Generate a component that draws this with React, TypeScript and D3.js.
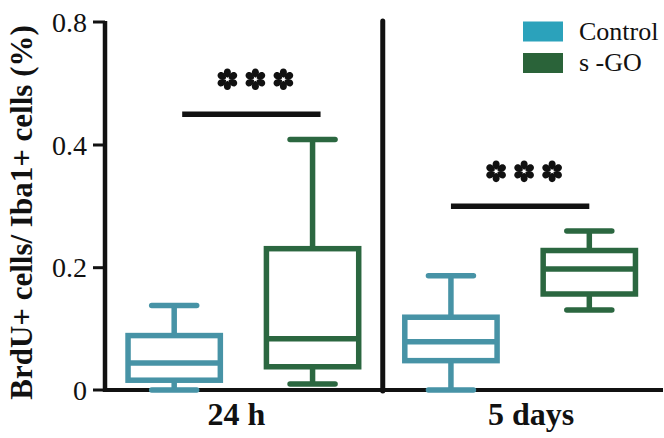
import React from "react";
import * as d3 from "d3";

// groups on the x axis and the two series
const groups = ["24 h", "5 days"];
const series = ["Control", "s-GO"];

// box stats per group: [min, q1, median, q3, max]
const controlStats = [
  [0, 0.016, 0.044, 0.089, 0.138],
  [0, 0.048, 0.079, 0.119, 0.187],
];
const sgoStats = [
  [0.01, 0.038, 0.084, 0.231, 0.418],
  [0.131, 0.157, 0.198, 0.228, 0.26],
];

// significance bars (height in data units) and labels
const sigLevels = [0.5, 0.3];
const sigLabels = ["***", "***"];

// y ticks (axis is broken: 0.4 -> 0.8 takes the same space as 0.2 steps)
const yTicks = [0, 0.2, 0.4, 0.8];
const yTickLabels = ["0", "0.2", "0.4", "0.8"];

const W = 664;
const H = 438;
const serif = "'Liberation Serif', 'Times New Roman', serif";

const strokeColors: Record<string, string> = { Control: "#4793a6", "s-GO": "#2b6740" };
const legendColors: Record<string, string> = { Control: "#2ba2bb", "s-GO": "#2a6339" };

// six-petal asterisk like the one in the figure
const petal = "M0,-1.5 C-5,-4 -4.4,-10.8 0,-10.8 C4.4,-10.8 5,-4 0,-1.5Z";

function Star({ cx, cy }: { cx: number; cy: number }) {
  return (
    <g transform={`translate(${cx},${cy})`}>
      {d3.range(6).map((i) => (
        <path key={i} d={petal} fill="#111" transform={`rotate(${i * 60})`} />
      ))}
    </g>
  );
}

export default function App() {
  const x = d3.scaleBand().domain(groups).range([105, 658.5]);
  const xs = d3.scaleBand().domain(series).range([0, x.bandwidth()]);
  const y = d3.scaleLinear().domain(yTicks).range([390, 267.7, 145, 22]);

  const boxW = xs.bandwidth() * 0.667;
  const capHalf = 22.5;
  const statsBySeries: Record<string, number[][]> = { Control: controlStats, "s-GO": sgoStats };
  const sigShift = [8, 0];
  const labelShift = [-7, 11];

  const cx = (g: string, s: string) => (x(g) as number) + (xs(s) as number) + xs.bandwidth() / 2;

  return (
    <svg width={W} height={H} style={{ position: "absolute", left: 0, top: 0, background: "#fff" }}>
      {/* y axis */}
      <line x1={105} x2={105} y1={y(0.8) - 1} y2={392} stroke="#111" strokeWidth={4.5} />
      {yTicks.map((t, i) => (
        <g key={t}>
          <line x1={93} x2={105} y1={y(t)} y2={y(t)} stroke="#111" strokeWidth={3} />
          <text x={87} y={y(t) + 9.5} textAnchor="end" fontFamily={serif} fontSize={28} fill="#111">
            {yTickLabels[i]}
          </text>
        </g>
      ))}
      {/* x axis */}
      <line x1={103} x2={663} y1={390} y2={390} stroke="#111" strokeWidth={4} />
      {/* divider between the groups */}
      <line
        x1={(x(groups[1]) as number) + 1}
        x2={(x(groups[1]) as number) + 1}
        y1={21}
        y2={391}
        stroke="#111"
        strokeWidth={5}
        strokeLinecap="round"
      />
      {groups.map((g, gi) => (
        <text
          key={g}
          x={(x(g) as number) + x.bandwidth() / 2 + labelShift[gi]}
          y={425}
          textAnchor="middle"
          fontFamily={serif}
          fontWeight="bold"
          fontSize={32}
          fill="#111"
        >
          {g}
        </text>
      ))}
      {/* y label */}
      <text
        transform="translate(32,212.5) rotate(-90)"
        textAnchor="middle"
        fontFamily={serif}
        fontWeight="bold"
        fontSize={31}
        fill="#111"
      >
        BrdU+ cells/ Iba1+ cells (%)
      </text>

      {/* boxes */}
      {groups.map((g, gi) =>
        series.map((s) => {
          const [mn, q1, md, q3, mx] = statsBySeries[s][gi];
          const c = cx(g, s);
          const col = strokeColors[s];
          return (
            <g key={g + s} stroke={col} strokeWidth={5.5} fill="none">
              <line x1={c} x2={c} y1={y(mx)} y2={y(q3)} />
              <line x1={c} x2={c} y1={y(q1)} y2={y(mn)} />
              <line x1={c - capHalf} x2={c + capHalf} y1={y(mx)} y2={y(mx)} strokeLinecap="round" />
              <line x1={c - capHalf} x2={c + capHalf} y1={y(mn)} y2={y(mn)} strokeLinecap="round" />
              <rect x={c - boxW / 2} y={y(q3)} width={boxW} height={y(q1) - y(q3)} fill="#fff" />
              <line x1={c - boxW / 2} x2={c + boxW / 2} y1={y(md)} y2={y(md)} />
            </g>
          );
        })
      )}

      {/* significance */}
      {groups.map((g, gi) => {
        const x1 = cx(g, series[0]) + sigShift[gi];
        const x2 = cx(g, series[1]) + sigShift[gi];
        const yy = y(sigLevels[gi]);
        const mid = (x1 + x2) / 2 + 4;
        return (
          <g key={"sig" + g}>
            <line x1={x1} x2={x2} y1={yy} y2={yy} stroke="#111" strokeWidth={5.5} />
            {sigLabels[gi].split("").map((_, k) => (
              <Star key={k} cx={mid + (k - 1) * 28} cy={yy - 35} />
            ))}
          </g>
        );
      })}

      {/* legend */}
      {series.map((s, i) => (
        <g key={"lg" + s} transform={`translate(523,${21.5 + i * 31.5})`}>
          <rect width={40} height={20} fill={legendColors[s]} />
          <text x={56} y={18} fontFamily={serif} fontSize={26} fill="#111">
            {s === "s-GO" ? "s -GO" : s}
          </text>
        </g>
      ))}
    </svg>
  );
}
